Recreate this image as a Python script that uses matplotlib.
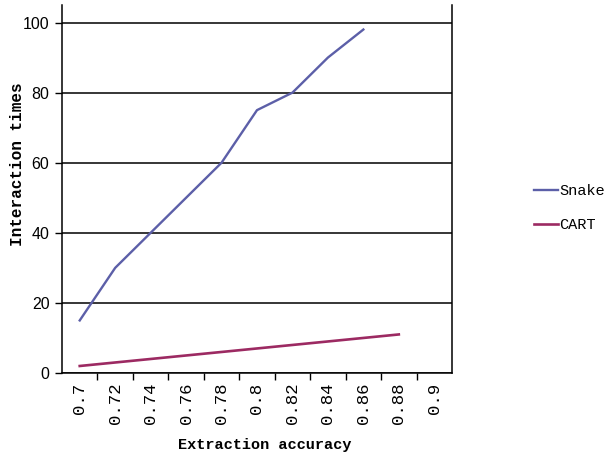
import matplotlib
matplotlib.use("Agg")
import matplotlib.pyplot as plt
from matplotlib.ticker import FixedLocator, NullFormatter

# Extraction accuracy categories and interaction counts per method
accuracy = ["0.7", "0.72", "0.74", "0.76", "0.78", "0.8", "0.82", "0.84", "0.86", "0.88", "0.9"]
snake = [15, 30, 40, 50, 60, 75, 80, 90, 98]
cart = [2, 3, 4, 5, 6, 7, 8, 9, 10, 11]
y_ticks = [0, 20, 40, 60, 80, 100]

W, H = 616, 458
fig = plt.figure(figsize=(W / 100, H / 100), dpi=100)
ax = fig.add_axes([62 / W, 1 - 373 / H, (452 - 62) / W, (373 - 5) / H])

x_snake = list(range(len(snake)))
x_cart = list(range(len(cart)))
l1, = ax.plot(x_snake, snake, color="#5c5fa8", lw=1.7, label="Snake")
l2, = ax.plot(x_cart, cart, color="#9c2a62", lw=1.9, label="CART")

ax.set_xlim(-0.5, len(accuracy) - 0.5)
ax.set_ylim(0, 105)

# category boundaries carry the tick marks, labels sit in the middle
ax.xaxis.set_major_locator(FixedLocator([i + 0.5 for i in range(len(accuracy) - 1)]))
ax.xaxis.set_major_formatter(NullFormatter())
ax.xaxis.set_minor_locator(FixedLocator(list(range(len(accuracy)))))
ax.set_xticklabels(accuracy, minor=True, rotation=90, family="Liberation Mono",
                   fontsize=12.5, va="top", ha="center")
ax.tick_params(axis="x", which="major", direction="out", length=5, width=1, color="black")
ax.tick_params(axis="x", which="minor", length=0, pad=7)

ax.set_yticks(y_ticks)
ax.set_yticklabels([str(v) for v in y_ticks], family=["Liberation Sans Narrow", "Liberation Sans"],
                   fontsize=11.5)
ax.tick_params(axis="y", direction="out", length=5, width=1, color="black", pad=4)

ax.grid(axis="y", color="black", lw=1.1)
ax.set_axisbelow(True)
for side in ("left", "right", "bottom"):
    ax.spines[side].set_color("black")
    ax.spines[side].set_linewidth(1.1)
ax.spines["top"].set_visible(False)

fig.text(265 / W, 1 - 445 / H, "Extraction accuracy", ha="center", va="center",
         family="Liberation Mono", fontweight="bold", fontsize=11)
fig.text(18 / W, 1 - 164 / H, "Interaction times", ha="center", va="center", rotation=90,
         family="Liberation Mono", fontweight="bold", fontsize=11.5)

fig.legend(handles=[l1, l2], loc="center left", bbox_to_anchor=(520 / W, 1 - 208 / H),
           frameon=False, prop={"family": "Liberation Mono", "size": 11},
           handlelength=1.6, handletextpad=0.05, labelspacing=1.3)

fig.savefig("out.png", dpi=100)
